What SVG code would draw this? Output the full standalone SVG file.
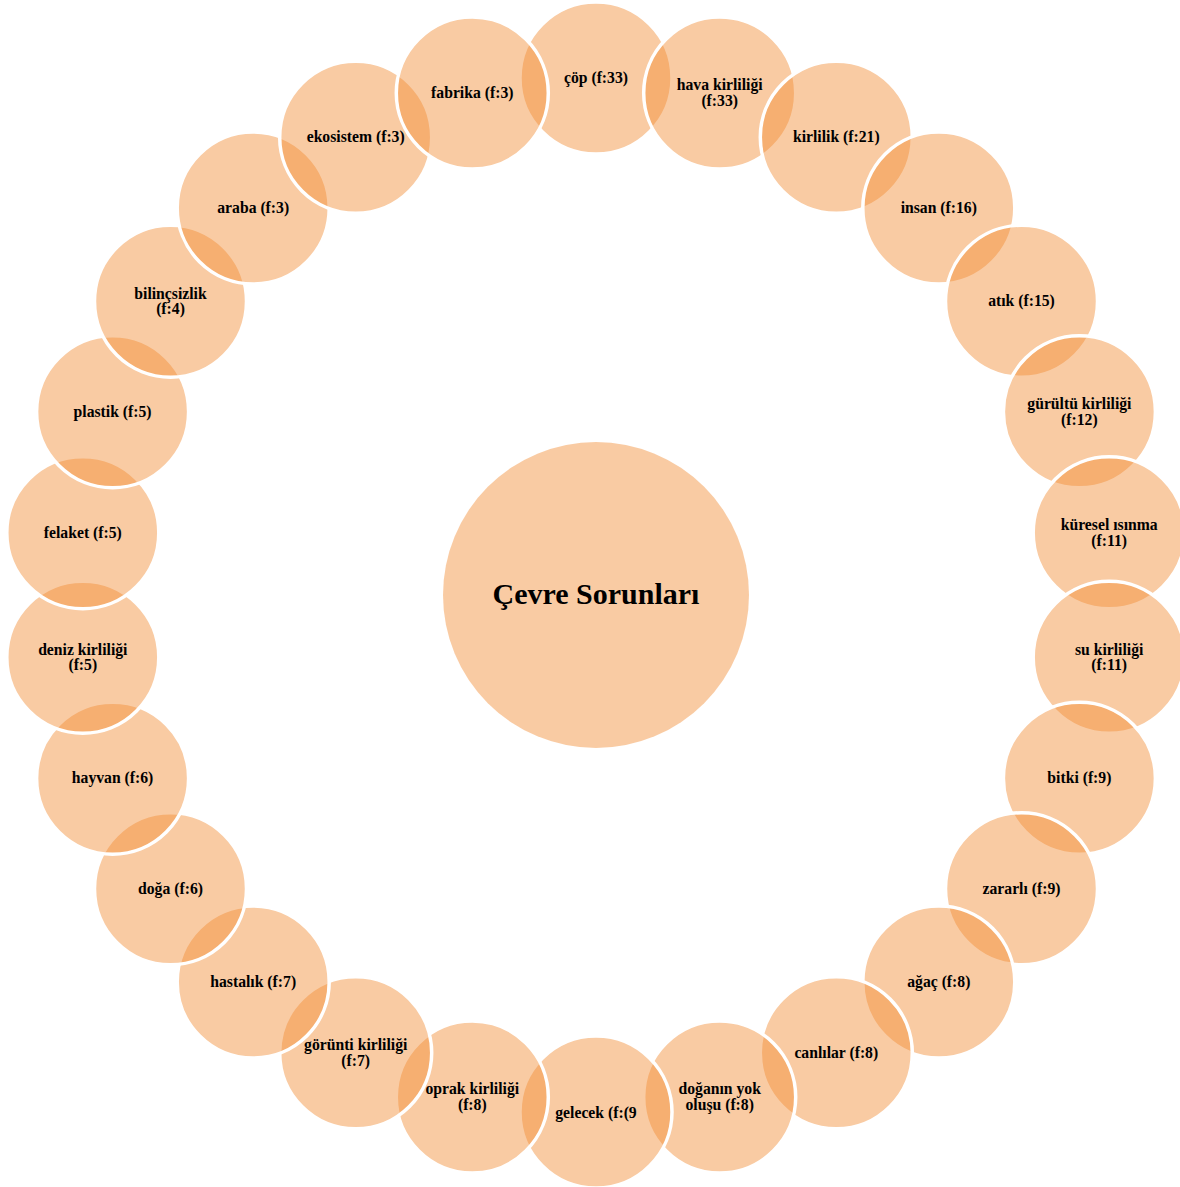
<svg xmlns="http://www.w3.org/2000/svg" width="1180" height="1187" viewBox="0 0 1180 1187">
<style>
.bub{fill:#F28E37;fill-opacity:0.46;stroke:#FFFFFF;stroke-width:3.5}
.hub{fill:#F28E37;fill-opacity:0.46;stroke:none}
text{font-family:"Liberation Serif","Times New Roman",serif;font-weight:bold;fill:#000000;text-anchor:middle}
.lbl{font-size:15.7px}
.ttl{font-size:30px}
</style>
<rect width="1180" height="1187" fill="#FFFFFF"/>
<g id="center">
<circle class="hub" cx="596" cy="595" r="153"/>
<text class="ttl" x="596" y="604">Çevre Sorunları</text>
</g>
<g id="n0"><circle class="bub" cx="596" cy="78" r="76"/><text class="lbl" x="596" y="83">çöp (f:33)</text></g>
<g id="n1"><circle class="bub" cx="719.7" cy="93" r="76"/><text class="lbl" x="719.7" y="90.3">hava kirliliği</text><text class="lbl" x="719.7" y="105.8">(f:33)</text></g>
<g id="n2"><circle class="bub" cx="836.3" cy="137.2" r="76"/><text class="lbl" x="836.3" y="142.2">kirlilik (f:21)</text></g>
<g id="n3"><circle class="bub" cx="938.8" cy="208" r="76"/><text class="lbl" x="938.8" y="213">insan (f:16)</text></g>
<g id="n4"><circle class="bub" cx="1021.5" cy="301.3" r="76"/><text class="lbl" x="1021.5" y="306.3">atık (f:15)</text></g>
<g id="n5"><circle class="bub" cx="1079.4" cy="411.7" r="76"/><text class="lbl" x="1079.4" y="409">gürültü kirliliği</text><text class="lbl" x="1079.4" y="424.5">(f:12)</text></g>
<g id="n6"><circle class="bub" cx="1109.2" cy="532.7" r="76"/><text class="lbl" x="1109.2" y="530">küresel ısınma</text><text class="lbl" x="1109.2" y="545.5">(f:11)</text></g>
<g id="n7"><circle class="bub" cx="1109.2" cy="657.3" r="76"/><text class="lbl" x="1109.2" y="654.6">su kirliliği</text><text class="lbl" x="1109.2" y="670.1">(f:11)</text></g>
<g id="n8"><circle class="bub" cx="1079.4" cy="778.3" r="76"/><text class="lbl" x="1079.4" y="783.3">bitki (f:9)</text></g>
<g id="n9"><circle class="bub" cx="1021.5" cy="888.7" r="76"/><text class="lbl" x="1021.5" y="893.7">zararlı (f:9)</text></g>
<g id="n10"><circle class="bub" cx="938.8" cy="982" r="76"/><text class="lbl" x="938.8" y="987">ağaç (f:8)</text></g>
<g id="n11"><circle class="bub" cx="836.3" cy="1052.8" r="76"/><text class="lbl" x="836.3" y="1057.8">canlılar (f:8)</text></g>
<g id="n12"><circle class="bub" cx="719.7" cy="1097" r="76"/><text class="lbl" x="719.7" y="1094.3">doğanın yok</text><text class="lbl" x="719.7" y="1109.8">oluşu (f:8)</text></g>
<g id="n13"><circle class="bub" cx="596" cy="1112" r="76"/><text class="lbl" x="596" y="1117.5">gelecek (f:(9</text></g>
<g id="n14"><circle class="bub" cx="472.3" cy="1097" r="76"/><text class="lbl" x="472.3" y="1094.3">oprak kirliliği</text><text class="lbl" x="472.3" y="1109.8">(f:8)</text></g>
<g id="n15"><circle class="bub" cx="355.7" cy="1052.8" r="76"/><text class="lbl" x="355.7" y="1050.1">görünti kirliliği</text><text class="lbl" x="355.7" y="1065.6">(f:7)</text></g>
<g id="n16"><circle class="bub" cx="253.2" cy="982" r="76"/><text class="lbl" x="253.2" y="987">hastalık (f:7)</text></g>
<g id="n17"><circle class="bub" cx="170.5" cy="888.7" r="76"/><text class="lbl" x="170.5" y="893.7">doğa (f:6)</text></g>
<g id="n18"><circle class="bub" cx="112.6" cy="778.3" r="76"/><text class="lbl" x="112.6" y="783.3">hayvan (f:6)</text></g>
<g id="n19"><circle class="bub" cx="82.8" cy="657.3" r="76"/><text class="lbl" x="82.8" y="654.6">deniz kirliliği</text><text class="lbl" x="82.8" y="670.1">(f:5)</text></g>
<g id="n20"><circle class="bub" cx="82.8" cy="532.7" r="76"/><text class="lbl" x="82.8" y="537.7">felaket (f:5)</text></g>
<g id="n21"><circle class="bub" cx="112.6" cy="411.7" r="76"/><text class="lbl" x="112.6" y="416.7">plastik (f:5)</text></g>
<g id="n22"><circle class="bub" cx="170.5" cy="301.3" r="76"/><text class="lbl" x="170.5" y="298.6">bilinçsizlik</text><text class="lbl" x="170.5" y="314.1">(f:4)</text></g>
<g id="n23"><circle class="bub" cx="253.2" cy="208" r="76"/><text class="lbl" x="253.2" y="213">araba (f:3)</text></g>
<g id="n24"><circle class="bub" cx="355.7" cy="137.2" r="76"/><text class="lbl" x="355.7" y="142.2">ekosistem (f:3)</text></g>
<g id="n25"><circle class="bub" cx="472.3" cy="93" r="76"/><text class="lbl" x="472.3" y="98">fabrika (f:3)</text></g>
<g id="connectors"></g>
</svg>
